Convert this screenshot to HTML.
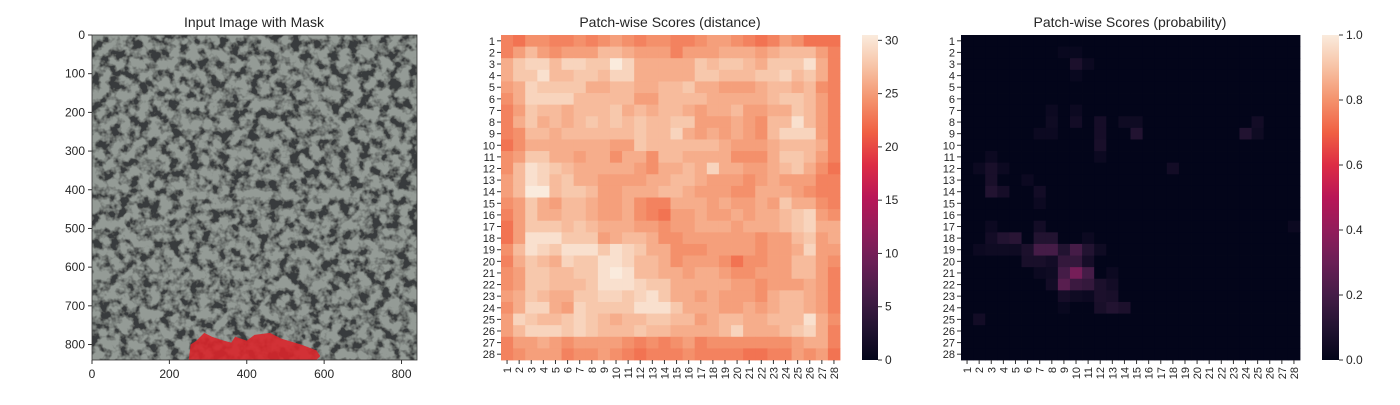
<!DOCTYPE html>
<html><head><meta charset="utf-8"><style>
body{margin:0;background:#fff;}
svg text{font-family:"Liberation Sans",Arial,sans-serif;fill:#262626;}
</style></head><body>
<svg id="chart" width="1400" height="400" viewBox="0 0 1400 400">
<defs>
<filter id="tex" x="0" y="0" width="100%" height="100%">
<feTurbulence type="fractalNoise" baseFrequency="0.1" numOctaves="3" seed="7" result="n"/>
<feColorMatrix type="matrix" values="0 0 0 0 0  0 0 0 0 0  0 0 0 0 0  1 0 0 0 0" in="n" result="a"/>
<feComponentTransfer in="a" result="b"><feFuncA type="linear" slope="4" intercept="-1.6"/></feComponentTransfer>
<feFlood flood-color="#393b3c" result="c"/>
<feComposite in="c" in2="b" operator="in" result="d"/>
<feMerge><feMergeNode in="SourceGraphic"/><feMergeNode in="d"/></feMerge>
</filter>
<linearGradient id="cb1" x1="0" y1="1" x2="0" y2="0"></linearGradient>
<linearGradient id="cb2" x1="0" y1="1" x2="0" y2="0"></linearGradient>
</defs>
<g id="p1">
<text x="254" y="27" font-size="14" text-anchor="middle">Input Image with Mask</text>
<rect x="92" y="35" width="325" height="325" fill="#949b96" filter="url(#tex)"/>
<polygon id="mask" fill="#d8262b" fill-opacity="0.9"/>
<rect x="92" y="35" width="325" height="325" fill="none" stroke="#333" stroke-width="0.8"/>
<g id="p1ticks"></g>
</g>
<g id="p2">
<text x="670" y="27" font-size="14" text-anchor="middle">Patch-wise Scores (distance)</text>
<g id="h2"></g>
<rect x="862" y="35" width="16" height="325" fill="url(#cb1)"/>
<g id="cb1t"></g>
</g>
<g id="p3">
<text x="1130" y="27" font-size="14" text-anchor="middle">Patch-wise Scores (probability)</text>
<g id="h3"></g>
<rect x="1322" y="35" width="17" height="325" fill="url(#cb2)"/>
<g id="cb2t"></g>
</g>
</svg>
<script>
const distLevels = [
[1,0,2,2,1,1,2,1,2,3,2,1,2,2,1,1,2,3,3,2,1,0,1,3,2,0,0,0],
[1,3,5,3,2,3,3,3,5,5,4,3,3,3,1,3,3,3,4,4,4,3,4,5,5,5,3,1],
[4,6,7,7,5,7,7,6,6,9,7,4,4,4,4,4,6,5,6,6,5,4,6,6,6,8,4,1],
[4,6,6,8,5,5,6,6,5,7,7,4,4,4,4,4,6,6,5,5,5,6,6,7,5,6,4,1],
[3,4,7,6,6,6,6,4,4,5,5,4,4,5,5,6,4,4,3,3,3,4,5,5,4,5,2,1],
[2,4,7,7,7,7,5,5,5,5,5,3,3,5,5,5,5,4,4,4,4,4,5,6,6,5,3,1],
[1,3,6,5,5,4,5,5,5,6,4,5,4,5,5,4,3,4,4,5,3,3,4,4,6,5,3,1],
[1,4,6,4,5,4,5,6,5,6,5,6,5,5,6,6,3,3,3,4,3,2,5,5,8,5,3,1],
[1,2,5,5,4,5,5,5,5,5,5,6,5,5,7,4,3,4,3,4,3,2,5,7,7,7,3,1],
[0,2,4,4,4,4,4,4,4,3,3,6,5,5,5,5,5,5,4,3,3,3,4,5,5,5,4,1],
[2,3,6,6,4,4,3,4,4,2,4,4,2,5,5,4,4,4,4,2,2,2,4,6,6,5,3,1],
[2,5,8,7,6,5,4,4,4,4,4,3,2,4,4,5,4,7,4,4,3,3,4,5,6,4,2,0],
[3,5,8,7,5,6,4,4,3,3,3,3,4,4,5,5,4,3,3,3,2,3,4,3,3,3,1,1],
[3,5,9,9,5,6,6,5,3,3,4,4,4,5,5,4,3,3,3,2,2,4,4,4,3,2,1,1],
[2,3,6,4,3,5,5,4,3,3,4,2,1,1,4,4,4,3,4,3,3,4,3,6,4,4,2,1],
[1,3,6,4,4,5,5,4,3,3,4,2,1,0,3,3,4,3,3,4,3,4,4,5,6,7,3,2],
[0,3,6,6,6,5,6,5,4,4,4,3,3,2,3,3,4,4,4,3,4,4,4,5,6,7,4,4],
[0,3,8,8,8,6,6,6,3,4,5,5,4,2,2,3,3,3,3,3,3,2,3,3,5,6,3,4],
[2,5,8,7,6,8,8,8,6,8,7,6,4,4,2,2,2,3,3,3,3,2,3,3,4,7,3,3],
[1,4,6,5,4,7,6,6,8,8,7,5,5,4,2,3,3,3,2,0,2,2,3,3,5,5,3,2],
[2,3,6,6,5,5,6,6,8,9,8,5,5,4,4,3,4,4,3,2,2,3,3,3,5,5,3,1],
[2,3,6,6,5,5,5,6,8,8,8,7,6,6,4,4,4,4,4,3,3,2,3,3,3,4,3,1],
[3,4,6,5,4,4,6,6,7,7,6,7,8,6,4,4,3,4,3,3,3,2,4,5,5,4,3,1],
[2,4,7,7,4,3,7,6,6,6,6,8,8,8,6,4,4,4,3,3,4,3,4,5,5,4,3,1],
[3,7,6,5,5,6,7,6,5,4,5,5,6,6,5,5,3,4,5,5,4,4,5,5,5,8,4,2],
[3,5,7,7,7,6,7,6,5,5,5,6,5,5,4,4,4,4,5,7,4,4,4,5,6,7,4,1],
[1,3,3,4,3,2,3,3,3,3,2,1,2,1,2,3,1,2,2,2,2,2,2,2,3,4,4,1],
[1,2,3,3,3,1,2,2,3,2,1,0,1,1,1,2,1,1,1,1,0,0,1,1,3,2,3,0]
];
const distBase = 22.5, distStep = 0.9;
const probRows = [2,2,3,3,4,7,7,8,8,8,8,8,8,9,9,9,9,9,9,10,11,11,12,12,12,12,13,13,14,14,14,15,17,17,17,18,18,18,18,18,18,19,19,19,19,19,19,19,19,19,19,19,20,20,20,20,20,20,21,21,21,21,21,21,22,22,22,22,22,22,23,23,23,23,23,24,24,24,24,25];
const probCols = [9,10,10,11,10,8,10,8,10,12,14,15,25,7,8,12,15,24,25,12,3,12,2,3,4,18,3,6,3,4,7,7,3,7,28,3,4,5,7,8,11,2,3,4,5,6,7,8,9,10,11,12,6,7,8,9,10,11,7,8,9,10,11,13,8,9,10,11,12,13,9,10,11,12,13,9,12,13,14,2];
const probVals = [0.02,0.02,0.08,0.03,0.02,0.03,0.03,0.04,0.05,0.06,0.04,0.04,0.05,0.03,0.03,0.06,0.1,0.1,0.04,0.07,0.03,0.03,0.03,0.07,0.03,0.05,0.07,0.03,0.1,0.06,0.05,0.03,0.03,0.05,0.03,0.05,0.1,0.12,0.1,0.1,0.03,0.03,0.04,0.04,0.04,0.08,0.2,0.2,0.1,0.2,0.1,0.04,0.07,0.07,0.05,0.15,0.15,0.06,0.03,0.04,0.2,0.33,0.2,0.03,0.05,0.25,0.17,0.15,0.08,0.05,0.06,0.04,0.03,0.08,0.07,0.02,0.07,0.1,0.08,0.05];
const distTicks = [0,5,10,15,20,25,30];
const probTicks = [0,0.2,0.4,0.6,0.8,1.0];
const imgXTicks = [0,200,400,600,800];
const imgYTicks = [0,100,200,300,400,500,600,700,800];
const maskX = [250,255,270,290,310,340,360,370,400,420,460,490,540,580,590,580];
const maskY = [840,800,790,770,780,790,795,780,790,775,770,785,800,815,830,840];

const NS='http://www.w3.org/2000/svg';
const stops=[[0,'#03051a'],[0.1,'#221331'],[0.2,'#451c47'],[0.3,'#6a1f56'],[0.4,'#921c5b'],[0.5,'#b91657'],[0.6,'#dd2c45'],[0.7,'#f06043'],[0.8,'#f4926c'],[0.9,'#f7c2a4'],[1,'#faebdd']];
function hx(c){return [1,3,5].map(i=>parseInt(c.substr(i,2),16));}
function rocket(t){t=Math.max(0,Math.min(1,t));for(let i=1;i<stops.length;i++){if(t<=stops[i][0]){const a=hx(stops[i-1][1]),b=hx(stops[i][1]);const f=(t-stops[i-1][0])/(stops[i][0]-stops[i-1][0]);return 'rgb('+a.map((v,k)=>Math.round(v+(b[k]-v)*f)).join(',')+')';}}return stops[10][1];}
function mk(tag,attrs,parent,txt){const e=document.createElementNS(NS,tag);for(const k in attrs)e.setAttribute(k,attrs[k]);if(txt!==undefined)e.textContent=txt;parent.appendChild(e);return e;}
['cb1','cb2'].forEach(id=>{const g=document.getElementById(id);stops.forEach(s=>mk('stop',{offset:s[0],'stop-color':s[1]},g));});

const ix=v=>92+v*(325/840), iy=v=>35+v*(325/840);
document.getElementById('mask').setAttribute('points',maskX.map((x,i)=>ix(x)+','+iy(maskY[i])).join(' '));
const p1=document.getElementById('p1ticks');
imgXTicks.forEach(v=>{
  let l=mk('line',{x1:ix(v),x2:ix(v),y1:360,y2:364,stroke:'#333'},p1);
  
  
  let t=mk('text',{x:ix(v),y:378,'font-size':12,'text-anchor':'middle'},p1,v);
  
  
});
imgYTicks.forEach(v=>{
  let l2=mk('line',{x1:88,x2:92,y1:iy(v),y2:iy(v),stroke:'#333'},p1);
  
  
  let t2=mk('text',{x:85,y:iy(v)+4,'font-size':12,'text-anchor':'end'},p1,v);
  
  
});

function heat(gid,x0,x1,getColor){
  const g=document.getElementById(gid);const y0=35,y1=360;const cw=(x1-x0)/28,ch=(y1-y0)/28;
  for(let r=0;r<28;r++)for(let c=0;c<28;c++){
    const e=mk('rect',{x:x0+c*cw,y:y0+r*ch,width:cw+0.4,height:ch+0.4,fill:getColor(r,c)},g);
    
    
  }
  for(let i=0;i<28;i++){
    const yy=y0+(i+0.5)*ch, xx=x0+(i+0.5)*cw;
    mk('line',{x1:x0-4,x2:x0,y1:yy,y2:yy,stroke:'#333'},g);
    const t=mk('text',{x:x0-6,y:yy+4,'font-size':11,'text-anchor':'end'},g,i+1);
    
    
    mk('line',{x1:xx,x2:xx,y1:y1,y2:y1+4,stroke:'#333'},g);
    const t2=mk('text',{x:0,y:0,'font-size':11,'text-anchor':'end',transform:`translate(${xx+4},${y1+7}) rotate(-90)`},g,i+1);
    
    
  }
}
const distMax=30.5;
heat('h2',501,840,(r,c)=>rocket((distBase+distLevels[r][c]*distStep)/distMax));
const probGrid=Array.from({length:28},()=>Array(28).fill(0));
probRows.forEach((r,i)=>{probGrid[r-1][probCols[i]-1]=probVals[i];});
heat('h3',961,1300,(r,c)=>rocket(probGrid[r][c]));

function cbTicks(gid,ticks,max,x,fmt){
  const g=document.getElementById(gid);
  ticks.forEach(v=>{const y=360-v/max*325;
    mk('line',{x1:x,x2:x+4,y1:y,y2:y,stroke:'#333'},g);
    const t=mk('text',{x:x+7,y:y+4,'font-size':12},g,fmt(v));
    
    
  });
}
cbTicks('cb1t',distTicks,distMax,878,v=>v);
cbTicks('cb2t',probTicks,1,1339,v=>v.toFixed(1));
</script>
</body></html>
